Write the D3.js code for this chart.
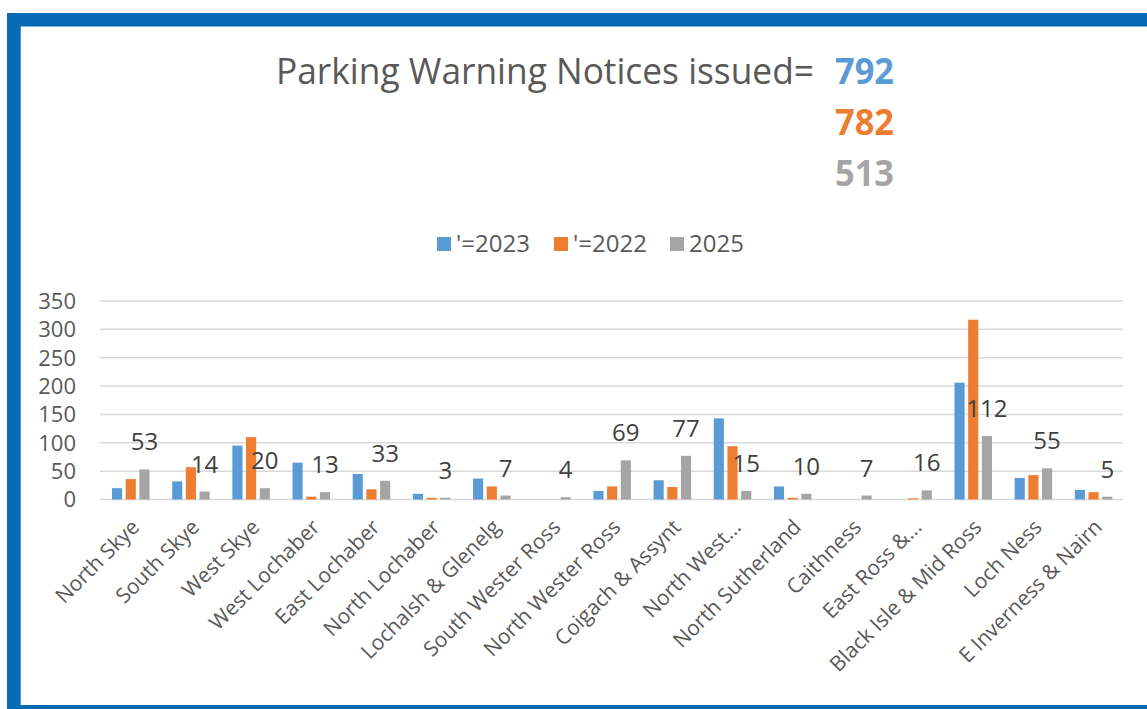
<!DOCTYPE html>
<html>
<head>
<meta charset="utf-8">
<script src="https://cdn.jsdelivr.net/npm/d3@7"></script>
<style>
  body { margin: 0; background: #fff; }
  svg { display: block; font-family: "Open Sans", "Noto Sans", sans-serif; }
  .grid line { stroke: #d9d9d9; stroke-width: 1.5; }
  .tick-label { fill: #595959; font-size: 22px; }
  .cat-label { fill: #595959; font-size: 21px; }
  .data-label { fill: #404040; font-size: 24px; }
  .legend text { fill: #595959; font-size: 24px; }
</style>
</head>
<body>
<svg id="chart" width="1147" height="709"></svg>
<script>
// categories along the x axis
const categories = [
  "North Skye", "South Skye", "West Skye", "West Lochaber", "East Lochaber",
  "North Lochaber", "Lochalsh & Glenelg", "South Wester Ross", "North Wester Ross",
  "Coigach & Assynt", "North West...", "North Sutherland", "Caithness",
  "East Ross &...", "Black Isle & Mid Ross", "Loch Ness", "E Inverness & Nairn"
]

// series values
const values2023 = [20, 32, 95, 65, 45, 10, 37, 0, 15, 34, 143, 23, 0, 0, 206, 38, 17]
const values2022 = [36, 57, 110, 5, 18, 3, 23, 0, 23, 22, 94, 3, 0, 2, 317, 43, 13]
const values2025 = [53, 14, 20, 13, 33, 3, 7, 4, 69, 77, 15, 10, 7, 16, 112, 55, 5]

const seriesNames = ["'=2023", "'=2022", "2025"]
const seriesColors = ["#5b9bd5", "#ed7d31", "#a5a5a5"]
const totals = ["792", "782", "513"]
const yTicks = [0, 50, 100, 150, 200, 250, 300, 350]

const svg = d3.select("#chart")

// blue frame round the chart (right side runs off the picture)
const frame = svg.append("g").attr("fill", "#086bb5")
frame.append("rect").attr("x", 7).attr("y", 13).attr("width", 1140).attr("height", 13.5)
frame.append("rect").attr("x", 7).attr("y", 13).attr("width", 13.7).attr("height", 696)
frame.append("rect").attr("x", 7).attr("y", 705).attr("width", 1140).attr("height", 4)

// title
svg.append("text")
  .attr("x", 276).attr("y", 84)
  .attr("font-size", 37).attr("fill", "#595959")
  .attr("textLength", 538).attr("lengthAdjust", "spacingAndGlyphs")
  .text("Parking Warning Notices issued=")

totals.forEach((t, i) => {
  svg.append("text")
    .attr("x", 894).attr("y", 84 + i * 51)
    .attr("text-anchor", "end")
    .attr("font-size", 35).attr("font-weight", "bold")
    .attr("fill", seriesColors[i])
    .attr("textLength", 59).attr("lengthAdjust", "spacingAndGlyphs")
    .text(t)
})

// scales
const x = d3.scaleBand().domain(categories).range([100, 1123]).padding(0)
const xs = d3.scaleBand().domain(seriesNames).range([12, 49.5]).paddingInner(0.26)
const y = d3.scaleLinear().domain([0, 350]).range([499.5, 301])

// gridlines + tick labels
const grid = svg.append("g").attr("class", "grid")
grid.selectAll("line").data(yTicks).enter().append("line")
  .attr("x1", 100).attr("x2", 1123)
  .attr("y1", (d) => y(d)).attr("y2", (d) => y(d))

svg.append("g").selectAll("text").data(yTicks).enter().append("text")
  .attr("class", "tick-label")
  .attr("x", 76).attr("y", (d) => y(d))
  .attr("text-anchor", "end").attr("dy", "0.36em")
  .text((d) => d)

// bars
const series = [values2023, values2022, values2025]
const bars = svg.append("g")
series.forEach((vals, si) => {
  bars.selectAll(null).data(vals).enter().append("rect")
    .attr("x", (d, i) => x(categories[i]) + xs(seriesNames[si]))
    .attr("y", (d) => y(d))
    .attr("width", xs.bandwidth())
    .attr("height", (d) => y(0) - y(d))
    .attr("fill", seriesColors[si])
})

// data labels on the 2025 series only
svg.append("g").selectAll("text").data(values2025).enter().append("text")
  .attr("class", "data-label")
  .attr("x", (d, i) => x(categories[i]) + xs("2025") + xs.bandwidth() / 2)
  .attr("y", (d) => y(d) - 19)
  .attr("text-anchor", "middle")
  .text((d) => d)

// category labels, rotated
svg.append("g").selectAll("text").data(categories).enter().append("text")
  .attr("class", "cat-label")
  .attr("transform", (d) => `translate(${x(d) + x.bandwidth() / 2},${518}) rotate(-45)`)
  .attr("text-anchor", "end")
  .attr("dy", "0.7em")
  .text((d) => d)

// legend
const legendX = [437, 554, 670]
const legend = svg.append("g").attr("class", "legend")
seriesNames.forEach((name, i) => {
  legend.append("rect")
    .attr("x", legendX[i]).attr("y", 237).attr("width", 14).attr("height", 14)
    .attr("fill", seriesColors[i])
  legend.append("text")
    .attr("x", legendX[i] + 19).attr("y", 252)
    .text(name)
})
</script>
</body>
</html>
